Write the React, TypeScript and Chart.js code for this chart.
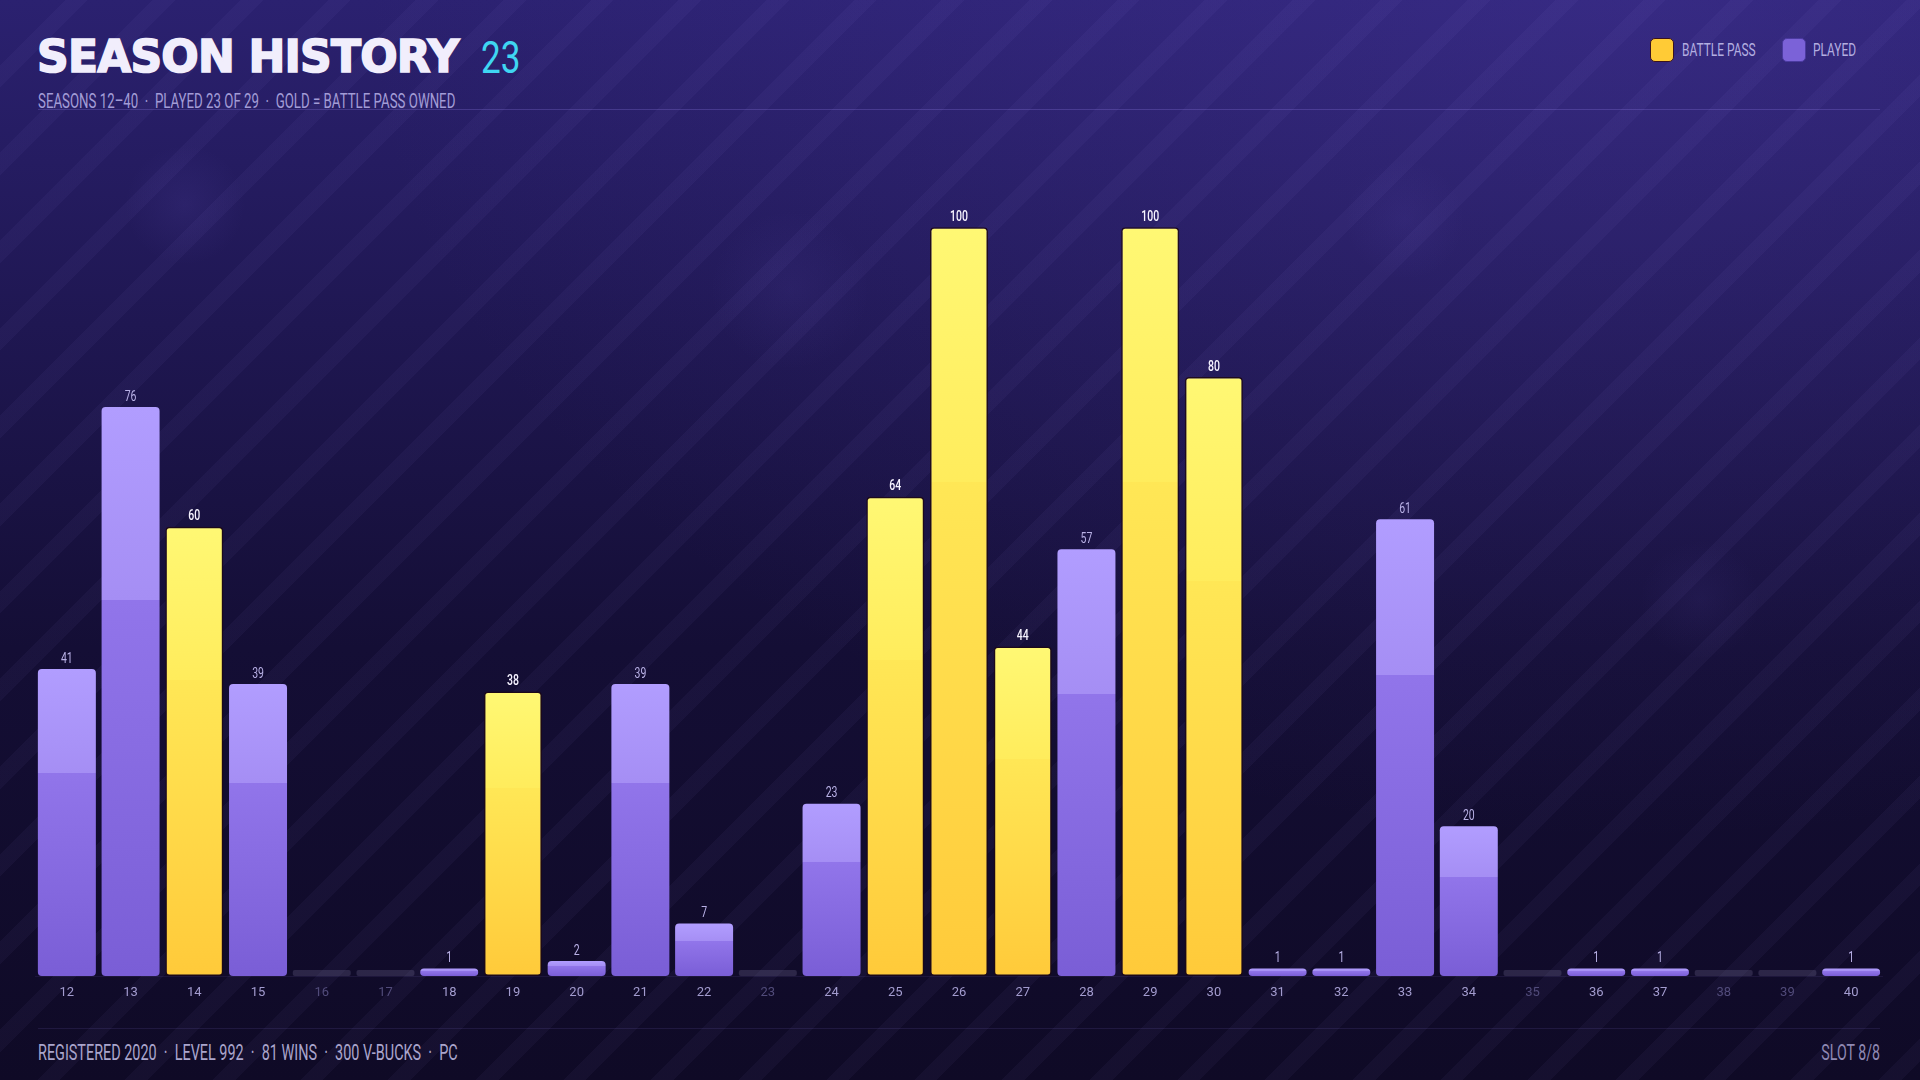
import React, { useEffect, useRef } from "react";
import { Chart, registerables } from "chart.js";

Chart.register(...registerables);

// ---------- DATA ----------
const SEASONS = ["12","13","14","15","16","17","18","19","20","21","22","23","24","25","26","27","28","29","30","31","32","33","34","35","36","37","38","39","40"];
const TIER_REACHED = [41,76,60,39,0,0,1,38,2,39,7,0,23,64,100,44,57,100,80,1,1,61,20,0,1,1,0,0,1];
const BATTLE_PASS_SEASONS = ["14","19","25","26","27","29","30"];
const UNPLAYED_SEASONS = ["16","17","23","35","38","39"];
const PLACEHOLDER_LEVEL = 0.8;

const TITLE = "SEASON HISTORY";
const TITLE_COUNT = "23";
const SUBTITLE = "SEASONS 12–40  ·  PLAYED 23 OF 29  ·  GOLD = BATTLE PASS OWNED";
const FOOTER_LEFT = "REGISTERED 2020  ·  LEVEL 992  ·  81 WINS  ·  300 V-BUCKS  ·  PC";
const FOOTER_RIGHT = "SLOT 8/8";
const LEGEND_LABELS = ["BATTLE PASS", "PLAYED"];

const battlePassData = SEASONS.map((s, i) => (BATTLE_PASS_SEASONS.includes(s) ? TIER_REACHED[i] : null));
const playedData = SEASONS.map((s, i) =>
  !BATTLE_PASS_SEASONS.includes(s) && !UNPLAYED_SEASONS.includes(s) ? TIER_REACHED[i] : null
);
const unplayedData = SEASONS.map((s) => (UNPLAYED_SEASONS.includes(s) ? PLACEHOLDER_LEVEL : null));

const SANS = 'Roboto, "Noto Sans", sans-serif';
const COND_K = 0.645;

function gradientFor(ctx: any, stops: [number, string][], fallback: string) {
  const chart = ctx.chart;
  const area = chart.chartArea;
  const v = ctx.raw;
  if (!area || v == null) return fallback;
  const y = chart.scales.y;
  const top = y.getPixelForValue(v);
  const bottom = y.getPixelForValue(0);
  if (!isFinite(top) || !isFinite(bottom) || bottom - top < 1) return fallback;
  const g = chart.ctx.createLinearGradient(0, top, 0, bottom);
  stops.forEach(([o, c]) => g.addColorStop(o, c));
  return g;
}

const GOLD_STOPS: [number, string][] = [
  [0, "#fff874"],
  [0.34, "#ffec5c"],
  [0.34, "#ffe756"],
  [1, "#ffca3a"],
];
const PURPLE_STOPS: [number, string][] = [
  [0, "#b19dff"],
  [0.34, "#a58ef4"],
  [0.34, "#9175ea"],
  [1, "#7a5ed6"],
];

const valueLabels = {
  id: "valueLabels",
  afterDatasetsDraw(chart: any) {
    const ctx = chart.ctx;
    [0, 1].forEach((di) => {
      const meta = chart.getDatasetMeta(di);
      const data = chart.data.datasets[di].data;
      meta.data.forEach((el: any, i: number) => {
        const v = data[i];
        if (v == null) return;
        ctx.save();
        ctx.translate(el.x, el.y - 10);
        ctx.scale(0.75, 1);
        ctx.textAlign = "center";
        ctx.textBaseline = "middle";
        ctx.font = (di === 0 ? "500 " : "400 ") + "14px " + SANS;
        ctx.fillStyle = di === 0 ? "#f6f3ff" : "#b9b1e6";
        ctx.fillText(String(v), 0, 0);
        ctx.restore();
      });
    });
  },
};

function BarChart() {
  const ref = useRef<HTMLCanvasElement | null>(null);
  useEffect(() => {
    if (!ref.current) return;
    const common = {
      grouped: false,
      barPercentage: 0.91,
      categoryPercentage: 1,
      borderRadius: 4,
      borderSkipped: false,
    };
    const chart = new Chart(ref.current, {
      type: "bar",
      data: {
        labels: SEASONS,
        datasets: [
          {
            label: "Battle Pass",
            data: battlePassData,
            ...common,
            backgroundColor: (c: any) => gradientFor(c, GOLD_STOPS, "#ffd94a"),
            borderColor: "rgba(30,8,20,0.85)",
            borderWidth: 1.5,
          },
          {
            label: "Played",
            data: playedData,
            ...common,
            backgroundColor: (c: any) => gradientFor(c, PURPLE_STOPS, "#9a82f0"),
            borderWidth: 0,
          },
          {
            label: "Not played",
            data: unplayedData,
            ...common,
            borderRadius: 2,
            backgroundColor: "rgba(120,112,150,0.28)",
            borderWidth: 0,
          },
        ],
      } as any,
      options: {
        animation: false,
        responsive: true,
        maintainAspectRatio: false,
        layout: { padding: 0 },
        plugins: { legend: { display: false }, tooltip: { enabled: false } },
        scales: {
          x: {
            grid: { display: false, drawTicks: false },
            border: { display: true, color: "rgba(150,130,230,0.10)" },
            ticks: {
              autoSkip: false,
              maxRotation: 0,
              padding: 9,
              font: { size: 13, family: SANS },
              color: (c: any) => (UNPLAYED_SEASONS.includes(SEASONS[c.index]) ? "#514b7a" : "#a39ccf"),
            },
            afterFit: (scale: any) => {
              scale.height = 29;
            },
          },
          y: { display: false, min: 0, max: 113 },
        },
      } as any,
      plugins: [valueLabels],
    });
    return () => chart.destroy();
  }, []);
  return <canvas ref={ref} />;
}

function Cond(props: {
  text: string;
  left?: number;
  right?: number;
  top: number;
  size: number;
  color: string;
  k?: number;
  weight?: number;
}) {
  const k = props.k ?? COND_K;
  const style: any = {
    position: "absolute",
    top: props.top,
    fontFamily: SANS,
    fontSize: props.size,
    fontWeight: props.weight ?? 400,
    color: props.color,
    lineHeight: 1,
    whiteSpace: "pre",
    transform: `scaleX(${k})`,
    transformOrigin: props.right != null ? "right top" : "left top",
  };
  if (props.right != null) style.right = props.right;
  else style.left = props.left;
  return <div style={style}>{props.text}</div>;
}

export default function App() {
  return (
    <div
      style={{
        position: "fixed",
        left: 0,
        top: 0,
        width: 1920,
        height: 1080,
        overflow: "hidden",
        background: "linear-gradient(180deg, #2b2170 0%, #1f1752 30%, #140e35 60%, #0f0a26 100%)",
      }}
    >
      {/* glows */}
      <div
        style={{
          position: "absolute",
          inset: 0,
          background:
            "radial-gradient(circle at 185px 205px, rgba(120,100,220,0.10) 0, rgba(120,100,220,0) 60px)," +
            "radial-gradient(circle at 790px 290px, rgba(120,100,220,0.08) 0, rgba(120,100,220,0) 80px)," +
            "radial-gradient(circle at 1405px 220px, rgba(120,100,220,0.08) 0, rgba(120,100,220,0) 60px)," +
            "radial-gradient(circle at 1700px 600px, rgba(120,100,220,0.07) 0, rgba(120,100,220,0) 60px)," +
            "radial-gradient(ellipse at 85% 0%, rgba(90,70,190,0.25) 0, rgba(90,70,190,0) 55%)",
        }}
      />
      {/* stripes */}
      <div
        style={{
          position: "absolute",
          inset: 0,
          background:
            "repeating-linear-gradient(135deg, rgba(255,255,255,0) 0px, rgba(255,255,255,0) 46px, rgba(170,150,255,0.045) 46px, rgba(170,150,255,0.045) 62px)",
        }}
      />

      {/* header */}
      <div
        style={{
          position: "absolute",
          left: 37,
          top: 35,
          fontFamily: '"DejaVu Sans", Lato, sans-serif',
          fontWeight: 700,
          fontSize: 44,
          lineHeight: 1,
          color: "#f1eefc",
          letterSpacing: -0.8,
          whiteSpace: "pre",
          WebkitTextStroke: "1.6px #f1eefc",
        }}
      >
        {TITLE}
      </div>
      <Cond text={TITLE_COUNT} left={481} top={35} size={45} color="#3fd6f2" k={0.78} />
      <Cond text={SUBTITLE} left={38} top={91} size={21} color="#a29cd6" k={0.632} />
      <div style={{ position: "absolute", left: 38, width: 1842, top: 109, height: 1, background: "rgba(150,130,240,0.25)" }} />

      {/* legend */}
      <div
        style={{
          position: "absolute",
          left: 1650,
          top: 38,
          width: 24,
          height: 24,
          borderRadius: 5,
          background: "#ffcb36",
          border: "1.5px solid #3a1320",
          boxSizing: "border-box",
        }}
      />
      <Cond text={LEGEND_LABELS[0]} left={1682} top={41} size={18.5} color="#b3aee0" />
      <div
        style={{
          position: "absolute",
          left: 1782,
          top: 38,
          width: 24,
          height: 24,
          borderRadius: 5,
          background: "#7b62d8",
          border: "1.5px solid #4b3aa0",
          boxSizing: "border-box",
        }}
      />
      <Cond text={LEGEND_LABELS[1]} left={1813} top={41} size={18.5} color="#b3aee0" />

      {/* chart */}
      <div style={{ position: "absolute", left: 35, top: 130, width: 1848, height: 875 }}>
        <BarChart />
      </div>

      {/* footer */}
      <div style={{ position: "absolute", left: 38, width: 1842, top: 1028, height: 1, background: "rgba(150,130,240,0.12)" }} />
      <Cond text={FOOTER_LEFT} left={38} top={1042} size={22} color="#aaa5cc" k={0.655} />
      <Cond text={FOOTER_RIGHT} right={40} top={1042} size={22} color="#8f89b4" />
    </div>
  );
}
